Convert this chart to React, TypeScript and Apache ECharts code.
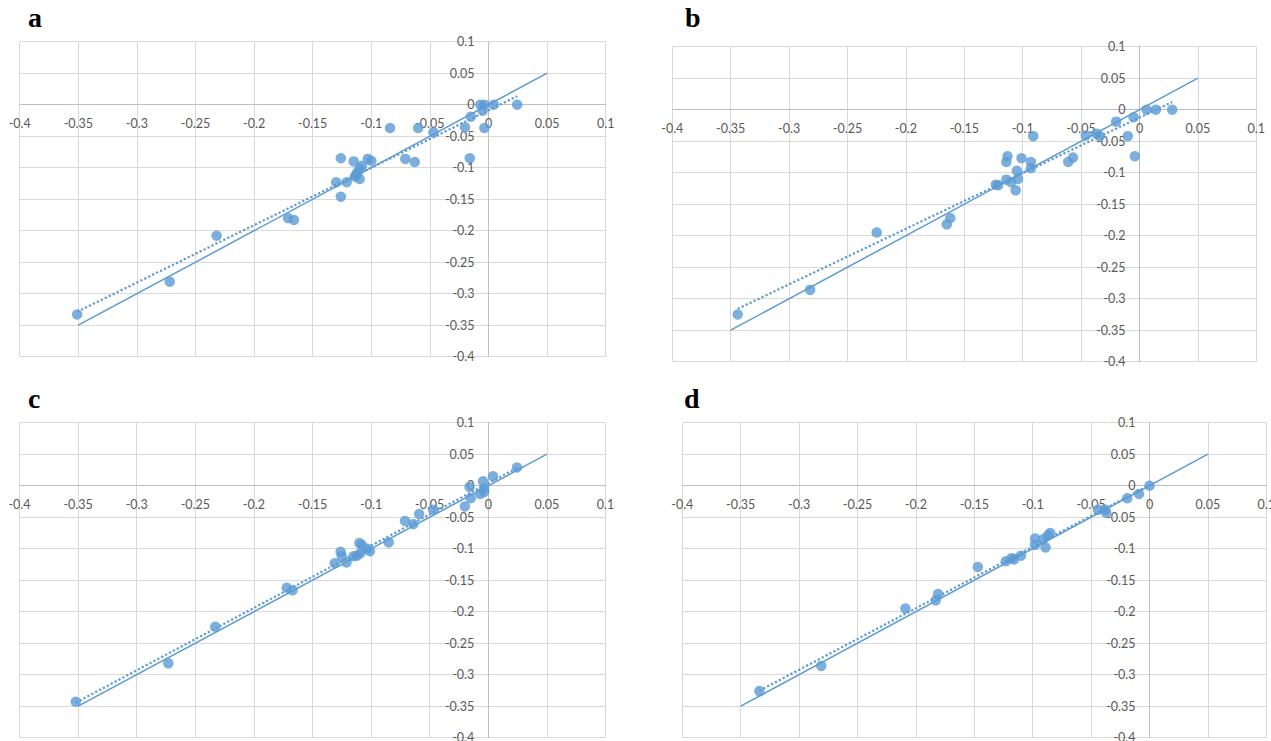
import React, { useEffect, useRef } from "react";
import * as echarts from "echarts";

// ---- Data ----
const panelLabels = ["a", "b", "c", "d"];
const axisMin = -0.4;
const axisMax = 0.1;
const axisStep = 0.05;
const identityLine = [-0.35, 0.05];

const aX = [-0.351, -0.272, -0.232, -0.171, -0.166, -0.13, -0.126, -0.126, -0.121, -0.115, -0.114, -0.112, -0.11, -0.108, -0.11, -0.113, -0.103, -0.1, -0.084, -0.071, -0.063, -0.06, -0.047, -0.02, -0.015, -0.016, -0.007, -0.0035, -0.005, -0.0035, 0.0045, 0.0245];
const aY = [-0.333, -0.281, -0.208, -0.18, -0.183, -0.123, -0.085, -0.146, -0.123, -0.09, -0.114, -0.108, -0.102, -0.097, -0.118, -0.112, -0.086, -0.089, -0.037, -0.086, -0.091, -0.037, -0.044, -0.036, -0.019, -0.085, 0, 0, -0.0095, -0.037, 0, 0];

const bX = [-0.344, -0.282, -0.225, -0.165, -0.162, -0.123, -0.121, -0.114, -0.113, -0.114, -0.11, -0.106, -0.104, -0.105, -0.101, -0.093, -0.093, -0.091, -0.061, -0.057, -0.046, -0.037, -0.034, -0.02, -0.01, -0.005, -0.004, 0.006, 0.014, 0.028];
const bY = [-0.325, -0.286, -0.195, -0.182, -0.172, -0.119, -0.12, -0.083, -0.074, -0.111, -0.115, -0.128, -0.11, -0.097, -0.077, -0.083, -0.093, -0.042, -0.083, -0.076, -0.041, -0.038, -0.042, -0.019, -0.042, -0.012, -0.074, 0, 0, 0];

const cX = [-0.352, -0.273, -0.233, -0.172, -0.167, -0.131, -0.126, -0.125, -0.121, -0.115, -0.112, -0.11, -0.108, -0.109, -0.101, -0.103, -0.085, -0.071, -0.064, -0.059, -0.047, -0.02, -0.016, -0.015, -0.007, -0.0035, -0.0045, -0.0035, 0.004, 0.0245];
const cY = [-0.343, -0.282, -0.224, -0.162, -0.166, -0.123, -0.105, -0.112, -0.122, -0.112, -0.111, -0.091, -0.094, -0.107, -0.104, -0.1, -0.09, -0.056, -0.061, -0.045, -0.038, -0.033, -0.002, -0.02, -0.013, -0.01, 0.007, -0.004, 0.015, 0.029];

const dX = [-0.334, -0.281, -0.209, -0.183, -0.181, -0.147, -0.123, -0.118, -0.116, -0.11, -0.098, -0.098, -0.091, -0.089, -0.087, -0.085, -0.044, -0.038, -0.037, -0.019, -0.009, 0];
const dY = [-0.326, -0.286, -0.195, -0.182, -0.172, -0.129, -0.12, -0.115, -0.117, -0.111, -0.084, -0.094, -0.085, -0.098, -0.079, -0.075, -0.038, -0.038, -0.043, -0.02, -0.013, 0];

const panelsX = [aX, bX, cX, dX];
const panelsY = [aY, bY, cY, dY];

// ---- Layout ----
const gridBoxes = [
  { left: 19.7, top: 41.7, width: 586, height: 315 },
  { left: 672.3, top: 46.7, width: 584, height: 315 },
  { left: 19.5, top: 422.7, width: 586, height: 315 },
  { left: 682.3, top: 422.7, width: 584, height: 315 },
];
const letterPos = [
  { x: 28, y: 19 },
  { x: 685, y: 19 },
  { x: 28, y: 400 },
  { x: 684, y: 400 },
];

const BLUE = "#5B9BD5";
const LABEL = "#595959";
const GRIDC = "#d9d9d9";
const AXISC = "#bfbfbf";

function fit(xs: number[], ys: number[]) {
  const n = xs.length;
  let sx = 0, sy = 0, sxx = 0, sxy = 0;
  for (let i = 0; i < n; i++) {
    sx += xs[i]; sy += ys[i]; sxx += xs[i] * xs[i]; sxy += xs[i] * ys[i];
  }
  const m = (n * sxy - sx * sy) / (n * sxx - sx * sx);
  const b = (sy - m * sx) / n;
  const x0 = Math.min(...xs);
  const x1 = Math.max(...xs);
  return [[x0, m * x0 + b], [x1, m * x1 + b]];
}

const fmt = (v: number) => String(Math.round(v * 100) / 100);

export default function App() {
  const ref = useRef<HTMLDivElement>(null);
  useEffect(() => {
    if (!ref.current) return;
    const chart = echarts.init(ref.current, undefined, { renderer: "svg" });
    const grid: any[] = [];
    const xAxis: any[] = [];
    const yAxis: any[] = [];
    const series: any[] = [];
    const graphic: any[] = [];
    const zeroFrac = (0 - axisMin) / (axisMax - axisMin); // where 0 lies along the axis
    panelsX.forEach((xs, i) => {
      const ys = panelsY[i];
      const box = gridBoxes[i];
      grid.push({ ...box, containLabel: false, outerBoundsMode: "none" });
      const common = {
        type: "value",
        min: axisMin,
        max: axisMax,
        interval: axisStep,
        gridIndex: i,
        axisTick: { show: false },
        axisLine: { show: true, onZero: false, lineStyle: { color: AXISC, width: 1 } },
        splitLine: { show: true, lineStyle: { color: GRIDC, width: 1 } },
        axisLabel: {
          color: LABEL,
          fontFamily: "Lato",
          fontSize: 12.5,
          formatter: fmt,
        },
      };
      // axes crossing at zero: shift each axis (with its labels) onto the other's zero
      xAxis.push({
        ...common,
        position: "bottom",
        offset: -zeroFrac * box.height,
        axisLabel: { ...common.axisLabel, margin: 12 },
      });
      yAxis.push({
        ...common,
        position: "left",
        offset: -zeroFrac * box.width,
        axisLabel: { ...common.axisLabel, margin: 14 },
      });
      series.push({
        type: "scatter",
        xAxisIndex: i,
        yAxisIndex: i,
        symbol: "circle",
        symbolSize: 10.5,
        itemStyle: { color: BLUE },
        data: xs.map((x, k) => [x, ys[k]]),
        z: 2,
      });
      series.push({
        type: "line",
        xAxisIndex: i,
        yAxisIndex: i,
        showSymbol: false,
        symbol: "none",
        lineStyle: { color: BLUE, width: 1.5 },
        data: identityLine.map((v) => [v, v]),
        z: 3,
      });
      series.push({
        type: "line",
        xAxisIndex: i,
        yAxisIndex: i,
        showSymbol: false,
        symbol: "none",
        lineStyle: { color: BLUE, width: 2.2, type: [2.2, 2.2] },
        data: fit(xs, ys),
        z: 3,
      });
      graphic.push({
        type: "text",
        left: letterPos[i].x,
        top: letterPos[i].y - 16,
        style: {
          text: panelLabels[i],
          font: "bold 28px 'Liberation Serif', 'Times New Roman', serif",
          fill: "#000",
        },
      });
    });
    chart.setOption({
      animation: false,
      backgroundColor: "#ffffff",
      grid,
      xAxis,
      yAxis,
      series,
      graphic,
    });
    return () => chart.dispose();
  }, []);
  return (
    <div
      ref={ref}
      style={{ position: "fixed", left: 0, top: 0, width: 1271, height: 741, background: "#fff" }}
    />
  );
}
